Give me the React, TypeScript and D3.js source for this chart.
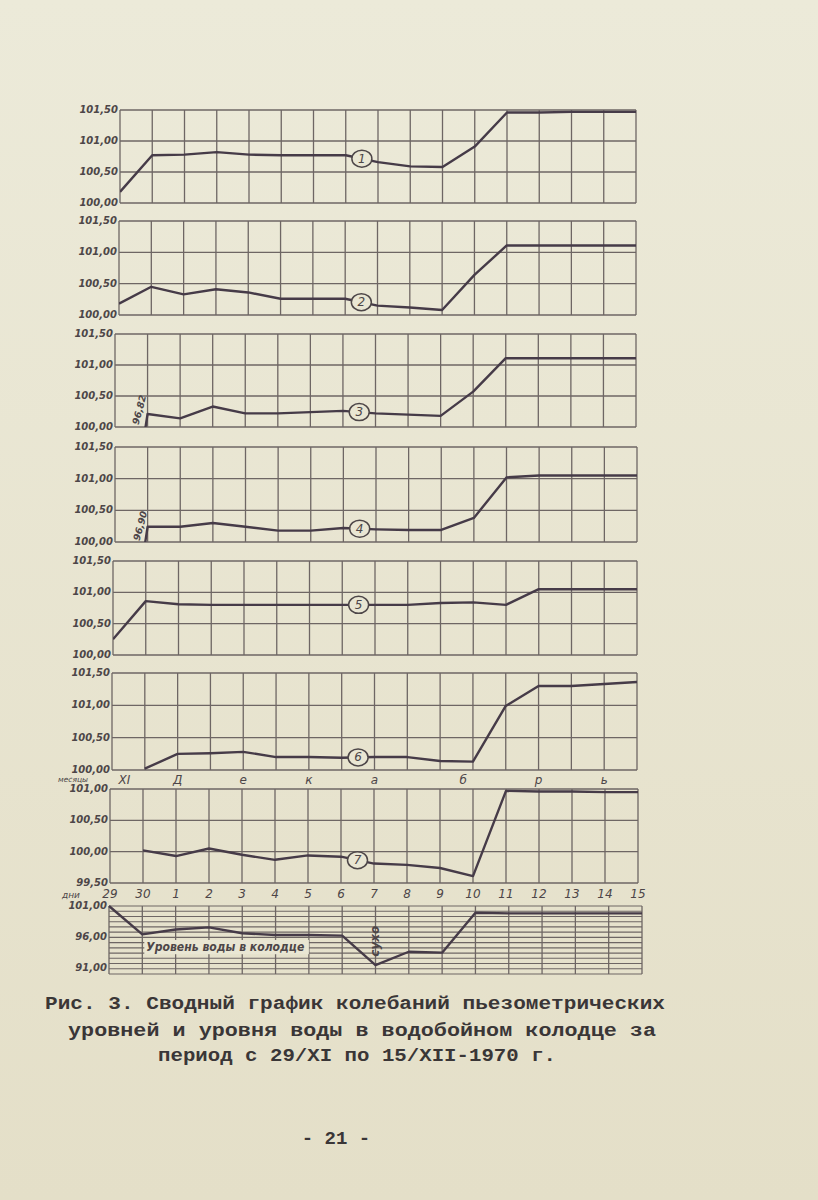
import React from "react";
import * as d3 from "d3";

// ---- data ----
const dayLabels = ["29", "30", "1", "2", "3", "4", "5", "6", "7", "8", "9", "10", "11", "12", "13", "14", "15"];
const monthLetters = ["Д", "е", "к", "а", "б", "р", "ь"];
const monthLetterPos = [2, 4, 6, 8, 10.7, 13, 15];

const piezo1 = [100.18, 100.77, 100.78, 100.82, 100.78, 100.77, 100.77, 100.77, 100.66, 100.59, 100.58, 100.91, 101.46, 101.46, 101.47, 101.47, 101.47];
const piezo2 = [100.18, 100.45, 100.33, 100.41, 100.36, 100.26, 100.26, 100.26, 100.15, 100.12, 100.08, 100.64, 101.11, 101.11, 101.11, 101.11, 101.11];
const piezo3 = [96.82, 100.21, 100.14, 100.33, 100.22, 100.22, 100.24, 100.26, 100.22, 100.2, 100.18, 100.57, 101.11, 101.11, 101.11, 101.11, 101.11];
const piezo4 = [96.9, 100.24, 100.24, 100.3, 100.24, 100.18, 100.18, 100.22, 100.2, 100.19, 100.19, 100.38, 101.02, 101.05, 101.05, 101.05, 101.05];
const piezo5 = [100.25, 100.86, 100.81, 100.8, 100.8, 100.8, 100.8, 100.8, 100.8, 100.8, 100.83, 100.84, 100.8, 101.05, 101.05, 101.05, 101.05];
const piezo6 = [null, 100.02, 100.25, 100.26, 100.28, 100.2, 100.2, 100.19, 100.2, 100.2, 100.14, 100.13, 100.99, 101.3, 101.3, 101.33, 101.36];
const piezo7 = [null, 100.02, 99.93, 100.05, 99.95, 99.87, 99.94, 99.92, 99.81, 99.79, 99.74, 99.61, 100.97, 100.96, 100.96, 100.95, 100.95];
const wellLevel = [101, 96.4, 97.2, 97.55, 96.6, 96.3, 96.3, 96.2, 91.45, 93.6, 93.45, 99.9, 99.8, 99.8, 99.8, 99.8, 99.8];

const seriesNames = ["1", "2", "3", "4", "5", "6", "7"];
const offScaleNotes = [null, null, "96,82", "96,90", null, null, null];

const ticksMain = [100, 100.5, 101, 101.5];
const ticks7 = [99.5, 100, 100.5, 101];
const ticksWell = [91, 96, 101];

const captionLines = [
  "Рис. 3. Сводный график колебаний пьезометрических",
  "уровней и уровня воды в водобойном колодце за",
  "период с 29/XI по 15/XII-1970 г.",
];
const pageNumber = "- 21 -";

// ---- layout ----
const W = 818;
const H = 1200;
const boxes = [
  { left: 120, right: 636, top: 110, bottom: 203 },
  { left: 119, right: 636, top: 221, bottom: 315 },
  { left: 115, right: 636, top: 334, bottom: 427 },
  { left: 115, right: 637, top: 447, bottom: 542 },
  { left: 113, right: 637, top: 561, bottom: 655 },
  { left: 112, right: 637, top: 673, bottom: 770 },
  { left: 110, right: 638, top: 789, bottom: 883 },
];
const wellBox = { left: 109, right: 642, top: 906, bottom: 974 };
const wellRulingCount = 13;
const noteBoxes = [null, null, { x: 140, y: 410 }, { x: 141, y: 526 }, null, null, null];
const captionBoxes = [
  { x: 45, w: 620, y: 1009 },
  { x: 68, w: 588, y: 1036 },
  { x: 158, w: 398, y: 1061 },
];

const ink = "#4d4648";
const gridInk = "#6e6664";
const lineInk = "#463b48";
const paper = "#e9e6d3";
const fmt = (v: number) => d3.format(".2f")(v).replace(".", ",");

const allSeries = [piezo1, piezo2, piezo3, piezo4, piezo5, piezo6, piezo7];

function Panel({ idx }: { idx: number }) {
  const b = boxes[idx];
  const data = allSeries[idx];
  const domain = idx === 6 ? [99.5, 101] : [100, 101.5];
  const ticks = idx === 6 ? ticks7 : ticksMain;
  const x = d3.scaleLinear().domain([0, dayLabels.length - 1]).range([b.left, b.right]);
  const y = d3.scaleLinear().domain(domain).range([b.bottom, b.top]);
  const line = d3
    .line<number | null>()
    .defined((d) => d != null)
    .x((_, i) => x(i))
    .y((d) => y(d as number));
  const cx = x(7.5);
  const cy = y(((data[7] as number) + (data[8] as number)) / 2);
  const clipId = `clip${idx}`;
  const note = offScaleNotes[idx];
  const nb = noteBoxes[idx];
  return (
    <g>
      <defs>
        <clipPath id={clipId}>
          <rect x={b.left} y={b.top - 3} width={b.right - b.left + 2} height={b.bottom - b.top + 3} />
        </clipPath>
      </defs>
      {dayLabels.map((_, i) => (
        <line key={"v" + i} x1={x(i)} x2={x(i)} y1={b.top} y2={b.bottom} stroke={gridInk} strokeWidth={1.3} />
      ))}
      {ticks.map((t) => (
        <line key={"h" + t} x1={b.left} x2={b.right} y1={y(t)} y2={y(t)} stroke={gridInk} strokeWidth={1.3} />
      ))}
      {ticks.map((t) => (
        <text
          key={"t" + t}
          x={b.left - 2}
          y={y(t)}
          textAnchor="end"
          dominantBaseline="middle"
          fontFamily="DejaVu Sans"
          fontStyle="italic"
          fontWeight="bold"
          fontSize={10}
          fill={ink}
        >
          {fmt(t)}
        </text>
      ))}
      <path d={line(data) || ""} fill="none" stroke={lineInk} strokeWidth={2.4} strokeLinejoin="round" clipPath={`url(#${clipId})`} />
      <ellipse cx={cx} cy={cy} rx={10} ry={8.5} fill={paper} stroke={ink} strokeWidth={1.5} />
      <text x={cx} y={cy + 0.5} textAnchor="middle" dominantBaseline="middle" fontFamily="DejaVu Sans" fontStyle="italic" fontSize={12} fill={ink}>
        {seriesNames[idx]}
      </text>
      {note && nb && (
        <text
          x={nb.x}
          y={nb.y}
          transform={`rotate(-75 ${nb.x} ${nb.y})`}
          textAnchor="middle"
          dominantBaseline="middle"
          fontFamily="DejaVu Sans"
          fontStyle="italic"
          fontWeight="bold"
          fontSize={9.5}
          fill={ink}
        >
          {note}
        </text>
      )}
    </g>
  );
}

function WellPanel() {
  const b = wellBox;
  const x = d3.scaleLinear().domain([0, dayLabels.length - 1]).range([b.left, b.right]);
  const y = d3.scaleLinear().domain([90, 101]).range([b.bottom, b.top]);
  const rulingY = d3.range(wellRulingCount + 1).map((k) => b.top + (k * (b.bottom - b.top)) / wellRulingCount);
  const line = d3
    .line<number>()
    .x((_, i) => x(i))
    .y((d) => y(d));
  return (
    <g>
      {rulingY.map((ry, k) => (
        <line key={"r" + k} x1={b.left} x2={b.right} y1={ry} y2={ry} stroke={gridInk} strokeWidth={1.1} />
      ))}
      {dayLabels.map((_, i) => (
        <line key={"v" + i} x1={x(i)} x2={x(i)} y1={b.top} y2={b.bottom} stroke={gridInk} strokeWidth={1.3} />
      ))}
      {ticksWell.map((t) => (
        <text
          key={"t" + t}
          x={b.left - 2}
          y={y(t)}
          textAnchor="end"
          dominantBaseline="middle"
          fontFamily="DejaVu Sans"
          fontStyle="italic"
          fontWeight="bold"
          fontSize={10}
          fill={ink}
        >
          {fmt(t)}
        </text>
      ))}
      <rect x={x(1) + 2} y={y(95.5)} width={x(6) - x(1) - 2} height={y(93.2) - y(95.5)} fill={paper} />
      <text
        x={x(1) + 4}
        y={y(94.3)}
        dominantBaseline="middle"
        fontFamily="DejaVu Sans"
        fontStyle="italic"
        fontWeight="bold"
        fontSize={11.5}
        textLength={158}
        lengthAdjust="spacingAndGlyphs"
        fill={ink}
      >
        Уровень воды в колодце
      </text>
      <path d={line(wellLevel) || ""} fill="none" stroke={lineInk} strokeWidth={2.4} strokeLinejoin="round" />
      <text
        x={x(8)}
        y={y(95.3)}
        transform={`rotate(-90 ${x(8)} ${y(95.3)})`}
        textAnchor="middle"
        dominantBaseline="middle"
        fontFamily="DejaVu Sans"
        fontStyle="italic"
        fontWeight="bold"
        fontSize={12}
        fill={ink}
      >
        сухо
      </text>
    </g>
  );
}

export default function App() {
  const b6 = boxes[5];
  const b7 = boxes[6];
  const x6 = d3.scaleLinear().domain([0, dayLabels.length - 1]).range([b6.left, b6.right]);
  const x7 = d3.scaleLinear().domain([0, dayLabels.length - 1]).range([b7.left, b7.right]);
  return (
    <svg width={W} height={H} style={{ position: "absolute", left: 0, top: 0 }}>
      <defs>
        <linearGradient id="paperGrad" x1="0" y1="0" x2="0" y2="1">
          <stop offset="0" stopColor="#ecead9" />
          <stop offset="1" stopColor="#e4dfc8" />
        </linearGradient>
      </defs>
      <rect x={0} y={0} width={W} height={H} fill="url(#paperGrad)" />
      {boxes.map((_, i) => (
        <Panel key={i} idx={i} />
      ))}
      {/* month row */}
      <text x={58} y={779.5} dominantBaseline="middle" fontFamily="DejaVu Sans" fontStyle="italic" fontSize={7.5} fill={ink}>
        месяцы
      </text>
      <text x={x6(0.2)} y={780} dominantBaseline="middle" fontFamily="DejaVu Sans" fontStyle="italic" fontSize={12} fill={ink}>
        XI
      </text>
      {monthLetters.map((m, i) => (
        <text key={"m" + i} x={x6(monthLetterPos[i])} y={780} textAnchor="middle" dominantBaseline="middle" fontFamily="DejaVu Sans" fontStyle="italic" fontSize={12} fill={ink}>
          {m}
        </text>
      ))}
      {/* day row */}
      <text x={62} y={895} dominantBaseline="middle" fontFamily="DejaVu Sans" fontStyle="italic" fontSize={9} fill={ink}>
        дни
      </text>
      {dayLabels.map((d, i) => (
        <text key={"d" + i} x={x7(i)} y={894} textAnchor="middle" dominantBaseline="middle" fontFamily="DejaVu Sans" fontStyle="italic" fontSize={12} fill={ink}>
          {d}
        </text>
      ))}
      <WellPanel />
      {captionLines.map((c, i) => (
        <text
          key={"c" + i}
          x={captionBoxes[i].x}
          y={captionBoxes[i].y}
          fontFamily="Liberation Mono"
          fontWeight="bold"
          fontSize={19}
          textLength={captionBoxes[i].w}
          lengthAdjust="spacingAndGlyphs"
          fill="#3a3637"
        >
          {c}
        </text>
      ))}
      <text x={336} y={1144} textAnchor="middle" fontFamily="Liberation Mono" fontWeight="bold" fontSize={19} fill="#3a3637">
        {pageNumber}
      </text>
    </svg>
  );
}
